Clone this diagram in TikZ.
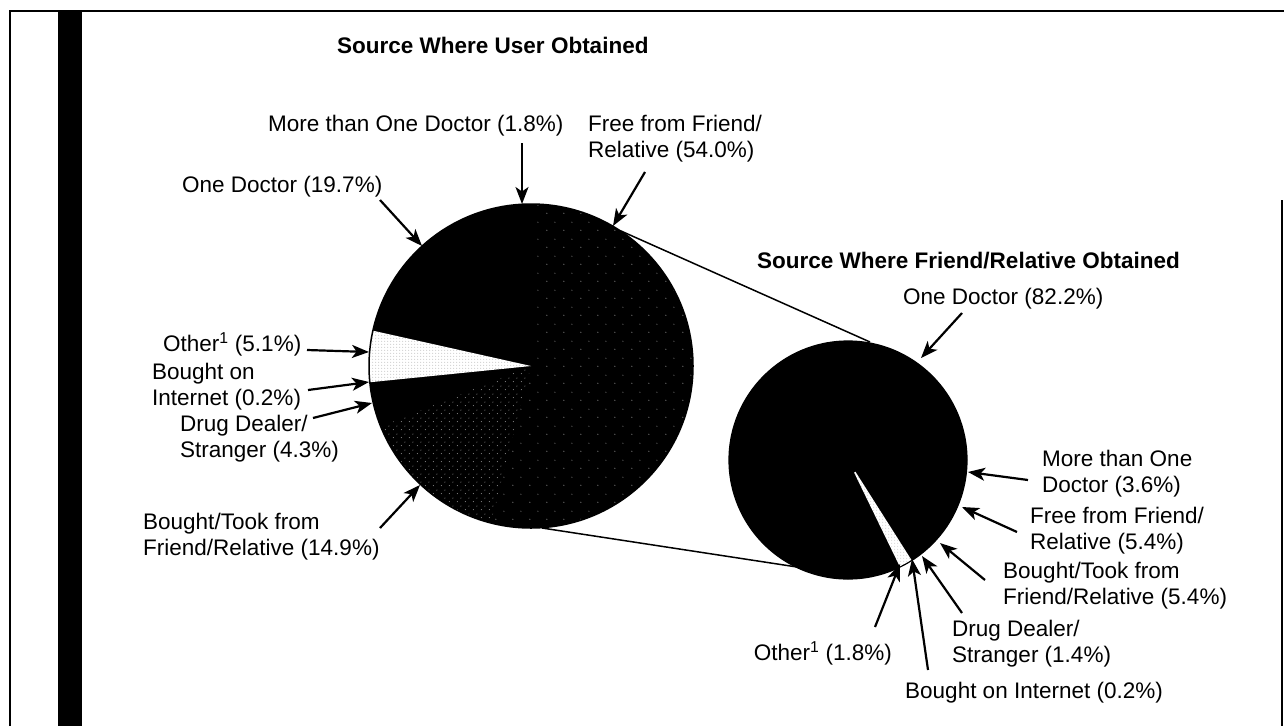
\documentclass[tikz,border=0pt]{standalone}
\usepackage{fontspec}
\setmainfont{Liberation Sans}
\usetikzlibrary{arrows.meta,calc,patterns.meta}

% speckle fills for the shaded pie slices
\pgfdeclarepattern{name=sparsespeck, type=uncolored,
  bottom left={\pgfpoint{0pt}{0pt}}, top right={\pgfpoint{17pt}{17pt}},
  tile size={\pgfpoint{17pt}{17pt}},
  code={\pgfpathcircle{\pgfpoint{3pt}{4pt}}{0.5pt}
        \pgfpathcircle{\pgfpoint{11.5pt}{12.5pt}}{0.5pt}\pgfusepath{fill}}}
\pgfdeclarepattern{name=densespeck, type=uncolored,
  bottom left={\pgfpoint{0pt}{0pt}}, top right={\pgfpoint{8pt}{8pt}},
  tile size={\pgfpoint{8pt}{8pt}},
  code={\pgfpathcircle{\pgfpoint{1.5pt}{1.5pt}}{0.5pt}
        \pgfpathcircle{\pgfpoint{5.5pt}{5.5pt}}{0.5pt}\pgfusepath{fill}}}
\pgfdeclarepattern{name=lightspeck, type=uncolored,
  bottom left={\pgfpoint{0pt}{0pt}}, top right={\pgfpoint{3pt}{3pt}},
  tile size={\pgfpoint{3pt}{3pt}},
  code={\pgfpathcircle{\pgfpoint{1pt}{1pt}}{0.5pt}\pgfusepath{fill}}}

\tikzset{
  lbl/.style={font=\fontsize{22.5}{26}\selectfont, inner sep=0pt, align=left, anchor=base west},
  ttl/.style={font=\fontsize{22.5}{26}\selectfont\bfseries, inner sep=0pt, anchor=base west},
  ptr/.style={line width=2.2pt, -{Stealth[length=17pt,width=13pt,inset=4.5pt]}},
  link/.style={line width=1.5pt},
  frame/.style={line width=2.5pt},
}

\begin{document}
\begin{tikzpicture}[x=1pt,y=1pt]
\useasboundingbox (0,0) rectangle (1284,-726);

% page frame and side bar
\draw[frame] (10,-726) -- (10,-11) -- (1284,-11);
\fill (58,-10) rectangle (82,-726);
\draw[line width=1.2pt] (1282,-200) -- (1282,-726);

% ---------- user pie ----------
\coordinate (c1) at (531,-366);
\def\ra{162}
\fill[black] (c1) circle[radius=\ra];
\fill[pattern=sparsespeck, pattern color=white!80!black] (c1) -- ++(90:\ra) arc[start angle=90, end angle=-104.4, radius=\ra] -- cycle;
\fill[pattern=densespeck, pattern color=white!80!black] (c1) -- ++(-104.4:\ra) arc[start angle=-104.4, end angle=-158.04, radius=\ra] -- cycle;
\fill[white] (c1) -- ++(-174.24:\ra) arc[start angle=-174.24, end angle=-192.6, radius=\ra] -- cycle;
\fill[pattern=lightspeck, pattern color=black!45] (c1) -- ++(-174.24:\ra) arc[start angle=-174.24, end angle=-192.6, radius=\ra] -- cycle;
\draw[line width=1.5pt] (c1) circle[radius=\ra];

% ---------- friend/relative pie ----------
\coordinate (c2) at (848,-460);
\def\rb{119}
\fill[black] (c2) circle[radius=\rb];
\fill[white] (c2) -- ++(-57.6:\rb) arc[start angle=-57.6, end angle=-64.08, radius=\rb] -- cycle;
\fill[pattern=lightspeck, pattern color=black!35] (c2) -- ++(-57.6:\rb) arc[start angle=-57.6, end angle=-64.08, radius=\rb] -- cycle;
\fill[black] (c2) circle[radius=14];
\draw[line width=1.2pt] (c2) circle[radius=\rb];

% lines joining the two pies
\coordinate (j1) at (621,-231);
\coordinate (j2) at (870,-342);
\coordinate (j3) at (542,-528);
\coordinate (j4) at (797,-567);
\draw[link] (j1) -- (j2);
\draw[link] (j3) -- (j4);

% titles
\node[ttl] (t1) at (337,-53) {Source Where User Obtained};
\node[ttl] (t2) at (757,-268) {Source Where Friend/Relative Obtained};

% labels, user pie (two-line labels are placed by their last baseline)
\node[lbl] (a1) at (268,-131) {More than One Doctor (1.8\%)};
\node[lbl] (a2) at (588,-157) {Free from Friend/\\Relative (54.0\%)};
\node[lbl] (a3) at (182,-192) {One Doctor (19.7\%)};
\node[lbl] (a4) at (163,-351) {Other\textsuperscript{1} (5.1\%)};
\node[lbl] (a5) at (152,-405) {Bought on\\Internet (0.2\%)};
\node[lbl] (a6) at (180,-457) {Drug Dealer/\\Stranger (4.3\%)};
\node[lbl] (a7) at (143,-555) {Bought/Took from\\Friend/Relative (14.9\%)};

% labels, friend/relative pie
\node[lbl] (b1) at (903,-304) {One Doctor (82.2\%)};
\node[lbl] (b2) at (1042,-492) {More than One\\Doctor (3.6\%)};
\node[lbl] (b3) at (1030,-549) {Free from Friend/\\Relative (5.4\%)};
\node[lbl] (b4) at (1003,-604) {Bought/Took from\\Friend/Relative (5.4\%)};
\node[lbl] (b5) at (952,-662) {Drug Dealer/\\Stranger (1.4\%)};
\node[lbl, anchor=base east] (b6) at (892,-660) {Other\textsuperscript{1} (1.8\%)};
\node[lbl] (b7) at (905,-698) {Bought on Internet (0.2\%)};

% arrow ends, user pie
\coordinate (a1s) at (522,-143); \coordinate (a1e) at (522,-204);
\coordinate (a2s) at (645,-172); \coordinate (a2e) at (613,-226);
\coordinate (a3s) at (380,-200); \coordinate (a3e) at (422,-246);
\coordinate (a4s) at (307,-350); \coordinate (a4e) at (369,-352);
\coordinate (a5s) at (308,-390); \coordinate (a5e) at (369,-382);
\coordinate (a6s) at (313,-418); \coordinate (a6e) at (372,-403);
\coordinate (a7s) at (380,-528); \coordinate (a7e) at (420,-485);
% arrow ends, friend/relative pie
\coordinate (b1s) at (962,-313); \coordinate (b1e) at (921,-358);
\coordinate (b2s) at (1028,-480); \coordinate (b2e) at (968,-472);
\coordinate (b3s) at (1017,-532); \coordinate (b3e) at (962,-507);
\coordinate (b4s) at (985,-580); \coordinate (b4e) at (940,-543);
\coordinate (b5s) at (962,-613); \coordinate (b5e) at (922,-556);
\coordinate (b6s) at (875,-627); \coordinate (b6e) at (900,-564);
\coordinate (b7s) at (928,-670); \coordinate (b7e) at (912,-559);

\foreach \p in {a1,a2,a3,a4,a5,a6,a7,b1,b2,b3,b4,b5,b6,b7}
  \draw[ptr] (\p s) -- (\p e);
\end{tikzpicture}
\end{document}
